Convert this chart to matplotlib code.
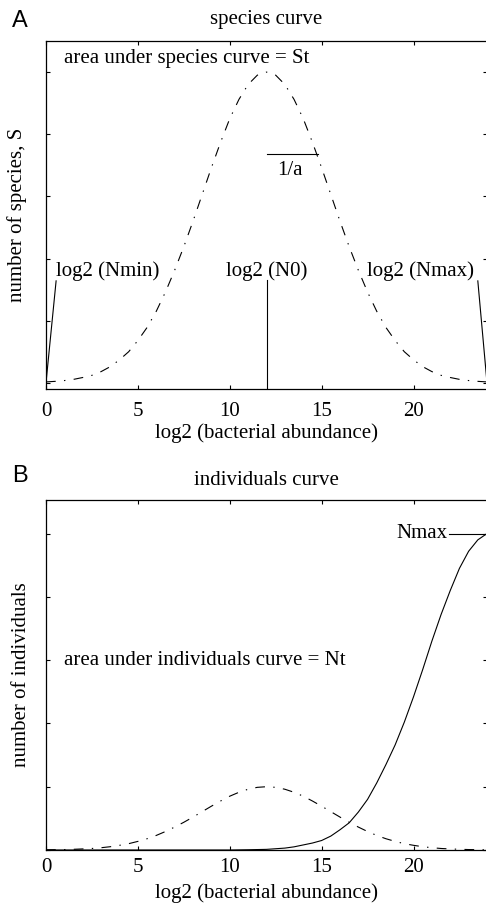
import matplotlib
matplotlib.use("Agg")
import matplotlib.pyplot as plt

plt.rcParams['font.family'] = ['Liberation Serif', 'DejaVu Serif']
plt.rcParams['lines.scale_dashes'] = False

# x positions, log2 (bacterial abundance)
log2_abund = [0, 0.5, 1, 1.5, 2, 2.5, 3, 3.5, 4, 4.5, 5, 5.5, 6, 6.5, 7, 7.5, 8,
              8.5, 9, 9.5, 10, 10.5, 11, 11.5, 12, 12.5, 13, 13.5, 14, 14.5, 15,
              15.5, 16, 16.5, 17, 17.5, 18, 18.5, 19, 19.5, 20, 20.5, 21, 21.5,
              22, 22.5, 23, 23.5, 24]

# panel A: species curve
species = [0.014, 0.023, 0.036, 0.055, 0.085, 0.12, 0.18, 0.26, 0.37, 0.50,
           0.68, 0.89, 1.15, 1.46, 1.81, 2.19, 2.60, 3.03, 3.46, 3.87, 4.25,
           4.56, 4.80, 4.95, 5.00, 4.95, 4.80, 4.56, 4.25, 3.87, 3.46, 3.03,
           2.60, 2.19, 1.81, 1.46, 1.15, 0.89, 0.68, 0.50, 0.37, 0.26, 0.18,
           0.12, 0.085, 0.055, 0.036, 0.023, 0.014]

# panel B: species curve (rescaled) and individuals curve
species_b = [0.003, 0.005, 0.007, 0.011, 0.017, 0.024, 0.036, 0.052, 0.074, 0.10,
             0.136, 0.178, 0.23, 0.292, 0.362, 0.438, 0.52, 0.606, 0.692, 0.774,
             0.85, 0.912, 0.96, 0.99, 1.00, 0.99, 0.96, 0.912, 0.85, 0.774, 0.692,
             0.606, 0.52, 0.438, 0.362, 0.292, 0.23, 0.178, 0.136, 0.10, 0.074,
             0.052, 0.036, 0.024, 0.017, 0.011, 0.007, 0.005, 0.003]
individuals = [0, 0, 0, 0, 0, 0, 0, 0, 0, 0, 0, 0, 0, 0, 0, 0, 0, 0, 0, 0, 0,
               0.002, 0.004, 0.007, 0.01, 0.02, 0.03, 0.05, 0.08, 0.11, 0.15,
               0.22, 0.32, 0.43, 0.6, 0.8, 1.06, 1.35, 1.66, 2.02, 2.42, 2.85,
               3.3, 3.72, 4.1, 4.45, 4.72, 4.9, 5.0]

xticks = [0, 5, 10, 15, 20]
yticks = [0, 1, 2, 3, 4, 5]

dashdot = (0, (7, 6, 1, 6))
fs = 15

fig = plt.figure(figsize=(4.86, 9.08), dpi=100)
axA = fig.add_axes([46 / 486, 519 / 908, 441 / 486, 348 / 908])
axB = fig.add_axes([46 / 486, 58 / 908, 441 / 486, 350 / 908])


def style(ax, ylim, pad, lpad):
    ax.set_xlim(0, 24)
    ax.set_ylim(*ylim)
    ax.set_xticks(xticks)
    ax.set_yticks(yticks)
    ax.set_yticklabels([])
    ax.tick_params(direction='in', length=3, width=0.8, top=True, right=True,
                   labelsize=fs, pad=pad)
    for s in ax.spines.values():
        s.set_linewidth(0.9)
    ax.set_xlabel('log2 (bacterial abundance)', fontsize=fs, labelpad=lpad)


# ---- panel A
axA.plot(log2_abund, species, color='black', lw=0.8, linestyle=dashdot)
style(axA, (-0.1, 5.5), 9, 2)
axA.set_title('species curve', fontsize=fs, pad=12)
axA.set_ylabel('number of species, S', fontsize=fs, labelpad=5)
axA.plot([0, 0.55], [0, 1.64], color='black', lw=0.8)
axA.plot([23.5, 24], [1.64, 0], color='black', lw=0.8)
axA.plot([12, 12], [-0.1, 1.65], color='black', lw=0.8)
axA.plot([12, 14.8], [3.68, 3.68], color='black', lw=0.8)
axA.text(0.55, 1.8, 'log2 (Nmin)', fontsize=fs, va='center', ha='left')
axA.text(12, 1.8, 'log2 (N0)', fontsize=fs, va='center', ha='center')
axA.text(23.3, 1.8, 'log2 (Nmax)', fontsize=fs, va='center', ha='right')
axA.text(12.6, 3.42, '1/a', fontsize=fs, va='center', ha='left')
axA.text(1.0, 5.22, 'area under species curve = St', fontsize=fs,
         va='center', ha='left')

# ---- panel B
axB.plot(log2_abund, species_b, color='black', lw=0.8, linestyle=dashdot)
axB.plot(log2_abund, individuals, color='black', lw=0.8)
style(axB, (0, 5.53), 6, 4)
axB.set_title('individuals curve', fontsize=fs, pad=11)
axB.set_ylabel('number of individuals', fontsize=fs, labelpad=5)
axB.plot([21.95, 24], [5, 5], color='black', lw=0.8)
axB.text(21.85, 5, 'Nmax', fontsize=fs, va='center', ha='right')
axB.text(1.0, 3.0, 'area under individuals curve = Nt', fontsize=fs,
         va='center', ha='left')

fig.text(12 / 486, 1 - 21 / 908, 'A', fontsize=17, family='Liberation Sans',
         va='center', ha='left')
fig.text(12 / 486, 1 - 476 / 908, 'B', fontsize=17, family='Liberation Sans',
         va='center', ha='left')

fig.savefig('out.png', dpi=100)
